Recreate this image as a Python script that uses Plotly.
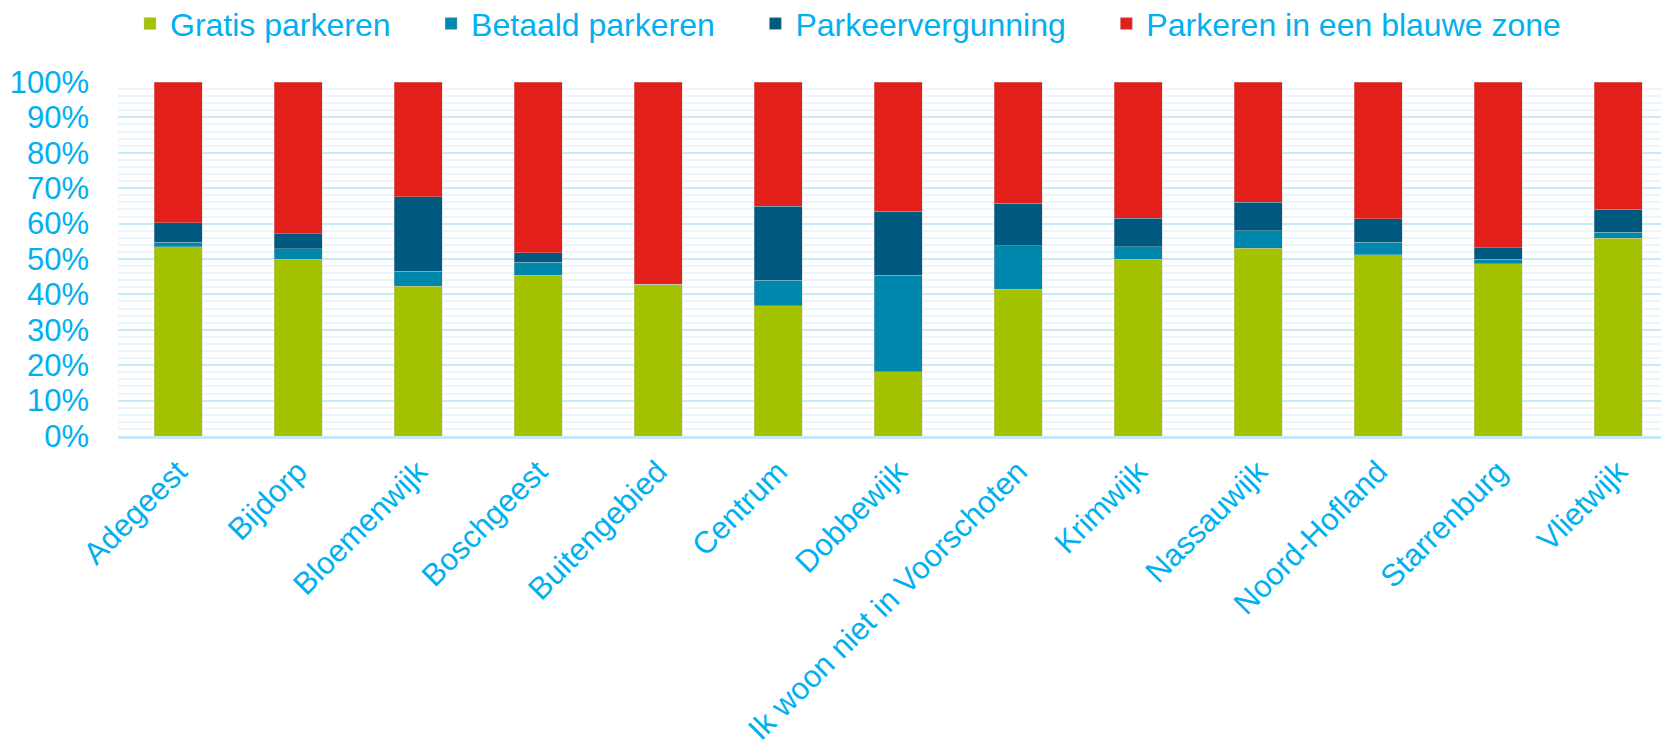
import plotly.graph_objects as go

wijken = ["Adegeest", "Bijdorp", "Bloemenwijk", "Boschgeest", "Buitengebied", "Centrum",
          "Dobbewijk", "Ik woon niet in Voorschoten", "Krimwijk", "Nassauwijk",
          "Noord-Hofland", "Starrenburg", "Vlietwijk"]

gratis      = [53.4, 49.9, 42.3, 45.4, 42.9, 36.8, 18.2, 41.5, 49.9, 53.0, 51.2, 48.7, 55.8]
betaald     = [1.3, 3.0, 4.2, 3.7, 0.0, 7.2, 27.2, 12.2, 3.6, 5.0, 3.5, 1.2, 1.7]
vergunning  = [5.6, 4.2, 21.1, 2.7, 0.0, 20.9, 18.1, 12.1, 8.0, 8.1, 6.7, 3.3, 6.5]
blauwe_zone = [39.7, 42.9, 32.4, 48.2, 57.1, 35.1, 36.5, 34.2, 38.5, 33.9, 38.6, 46.8, 36.0]

series = [
    ("Gratis parkeren", gratis, "#a5c200"),
    ("Betaald parkeren", betaald, "#0087ad"),
    ("Parkeervergunning", vergunning, "#005a80"),
    ("Parkeren in een blauwe zone", blauwe_zone, "#e31f1a"),
]

text_color = "#00b0f0"
font_family = "Arial, Liberation Sans, sans-serif"
pad = "\u00a0" * 4  # extra room between legend entries

fig = go.Figure()
for name, vals, color in series:
    fig.add_trace(go.Bar(
        x=wijken, y=vals, name=name + pad,
        marker=dict(color=color, line=dict(color="rgba(200,200,200,0.6)", width=0.6)),
        width=0.4,
    ))

fig.update_layout(
    barmode="stack",
    barnorm="percent",
    width=1669, height=753,
    paper_bgcolor="white",
    plot_bgcolor="white",
    margin=dict(l=110, r=0, t=74, b=325, autoexpand=False),
    font=dict(family=font_family, color=text_color),
    showlegend=True,
    legend=dict(
        orientation="h", traceorder="normal",
        xref="container", yref="container",
        x=122 / 1669, xanchor="left",
        y=0.979, yanchor="middle",
        font=dict(size=32, color=text_color),
        bgcolor="rgba(0,0,0,0)",
    ),
)

fig.update_yaxes(
    range=[0, 100], dtick=10, ticksuffix="%",
    tickfont=dict(size=31, color=text_color),
    showgrid=True, gridcolor="#c8eaf8", gridwidth=2,
    minor=dict(dtick=2, showgrid=True, gridcolor="#eaf6fc", gridwidth=1.5),
    zeroline=False, showline=False,
    ticklabelstandoff=28, automargin=False,
)
fig.update_xaxes(
    range=[-0.5, 12.49],
    tickangle=-45,
    tickfont=dict(size=31, color=text_color),
    showline=True, linecolor="#c8eaf8", linewidth=3,
    showgrid=False, automargin=False,
    ticklabelstandoff=2,
)

fig.write_html("out.html")
